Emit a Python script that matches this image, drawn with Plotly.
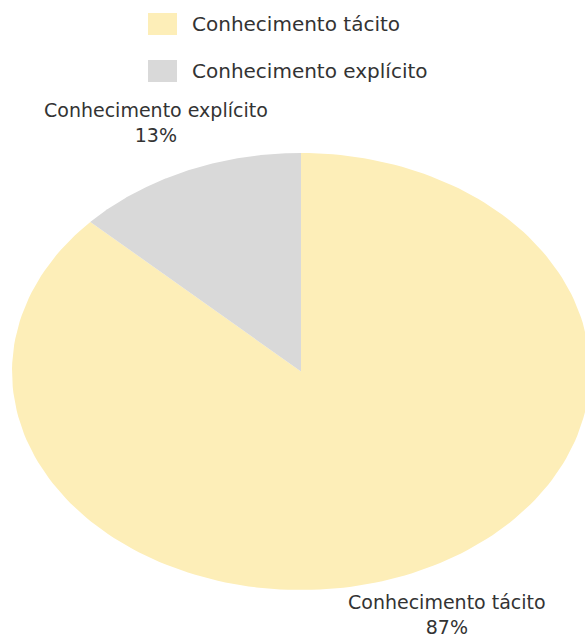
import numpy as np
import plotly.graph_objects as go

# ---- data ----
categories = ["Conhecimento tácito", "Conhecimento explícito"]
values = [87, 13]
colors = ["#FDEEB8", "#D9D9D9"]

# ---- layout constants (pixel space) ----
W, H = 585, 640
CX, CY = 301, 371.5      # pie centre
RX, RY = 289, 218.5      # pie radii (reference image is horizontally stretched)
FONT = "DejaVu Sans"
FSIZE = 20
LSIZE = 19
TXT = "#333333"

total = float(sum(values))
fracs = [v / total for v in values]

fig = go.Figure()

# slices, clockwise from 12 o'clock, computed from the values
start = 0.0
for cat, f, col in zip(categories, fracs, colors):
    end = start + f * 2 * np.pi
    th = np.linspace(start, end, 200)
    xs = np.concatenate([[CX], CX + RX * np.sin(th), [CX]])
    ys = np.concatenate([[CY], CY - RY * np.cos(th), [CY]])
    fig.add_trace(go.Scatter(
        x=xs, y=ys, mode="lines", fill="toself", fillcolor=col,
        line=dict(width=0, color=col), name=cat, showlegend=False,
        hoverinfo="skip"))
    start = end

shapes = []
annotations = []

# legend (squares + names)
leg_y = [24, 71]
for cat, col, y in zip(categories, colors, leg_y):
    shapes.append(dict(type="rect", xref="x", yref="y",
                       x0=148, x1=177, y0=y - 11, y1=y + 11,
                       fillcolor=col, line=dict(width=0)))
    annotations.append(dict(x=190, y=y, xref="x", yref="y", text=cat,
                            showarrow=False, xanchor="left", yanchor="middle",
                            font=dict(family=FONT, size=FSIZE, color=TXT)))

# outside slice labels (name + percentage)
label_pos = {
    "Conhecimento tácito": (447, 640, "bottom"),
    "Conhecimento explícito": (156, 122, "middle"),
}
for cat, f in zip(categories, fracs):
    x, y, ya = label_pos[cat]
    annotations.append(dict(x=x, y=y, xref="x", yref="y",
                            text=f"{cat}<br>{round(f * 100)}%",
                            showarrow=False, xanchor="center", yanchor=ya,
                            align="center",
                            font=dict(family=FONT, size=LSIZE, color=TXT)))

fig.update_layout(
    width=W, height=H,
    margin=dict(l=0, r=0, t=0, b=0),
    paper_bgcolor="white", plot_bgcolor="white",
    xaxis=dict(range=[0, W], visible=False, fixedrange=True),
    yaxis=dict(range=[H, 0], visible=False, fixedrange=True),
    shapes=shapes, annotations=annotations,
    showlegend=False,
)

fig.write_html("out.html")
